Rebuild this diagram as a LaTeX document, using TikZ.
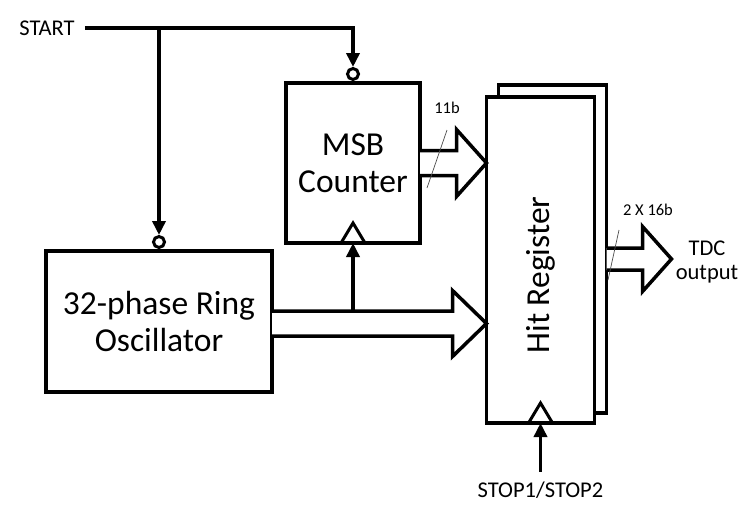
\documentclass[tikz,border=0pt]{standalone}
\usepackage{fontspec}
\setmainfont{Carlito}
\usetikzlibrary{arrows.meta,calc}
\newcommand\busarr[5]{%
  \draw[bus] let \p1=(#1), \p2=(#2) in
    (\x1,\y2+#3pt) -- (\x2-#5pt,\y2+#3pt) -- (\x2-#5pt,\y2+#4pt) -- (\p2)
    -- (\x2-#5pt,\y2-#4pt) -- (\x2-#5pt,\y2-#3pt) -- (\x1,\y2-#3pt);}
\begin{document}
\begin{tikzpicture}[x=1pt,y=-1pt,
  blk/.style={draw, line width=3.5pt, fill=white, rectangle, inner sep=0pt, outer sep=0pt},
  wire/.style={line width=3.5pt},
  arr/.style={wire, -{Triangle[length=14pt,width=13pt]}},
  bus/.style={line width=3.5pt, line join=miter, fill=white},
  slash/.style={line width=0.7pt, draw=black!70},
  bubble/.style={circle, draw, line width=3pt, minimum size=11pt, inner sep=0pt, fill=white},
  clk/.style={line width=3pt, line join=miter},
  big/.style={font=\fontsize{33.5}{37}\selectfont, align=center},
  lbl/.style={font=\fontsize{22.5}{24}\selectfont, align=center, inner sep=0pt},
  tiny/.style={font=\fontsize{16.5}{18}\selectfont, inner sep=0pt}]
\useasboundingbox (0,0) rectangle (747,517);

% blocks
\node[blk, big, minimum width=134pt, minimum height=160pt] (msb) at (353,163) {MSB\\Counter};
\node[blk, big, minimum width=226pt, minimum height=141pt] (oro) at (159,321.5) {32-phase Ring\\Oscillator};
\node[blk, minimum width=108pt, minimum height=328pt] (hitb) at (552.5,249) {};
\node[blk, minimum width=108pt, minimum height=326pt] (hit) at (540.5,260) {};
\node[big, rotate=90] (hitt) at (540.5,275) {Hit Register};

% inversion bubbles
\node[bubble] (msbb) at ($(msb.north)+(0,-9)$) {};
\node[bubble] (orob) at ($(oro.north)+(0,-9)$) {};

% clock triangles
\draw[clk] ($(msb.south)+(-12,0)$) -- ($(msb.south)+(0,-20)$) -- ($(msb.south)+(12,0)$);
\draw[clk] ($(hit.south)+(-12,0)$) -- ($(hit.south)+(0,-20)$) -- ($(hit.south)+(12,0)$);

% START
\node[lbl] (start) at (47,28) {START};
\draw[arr] ($(start.east)+(10,0)$) -| (msbb.north);
\draw[arr] (orob.north |- start.east) -- (orob.north);

% buses
\coordinate (mtip) at (hit.west |- msb.east);
\coordinate (otip) at ($(hit.west)+(0,63.5)$);
\coordinate (ttip) at ($(hitb.east)+(65,10)$);
\busarr{msb.east}{mtip}{12.5}{33.5}{30}
\busarr{oro.east}{otip}{12.5}{33}{34}
\busarr{hitb.east}{ttip}{11}{32.5}{29}

% clock from oscillator bus to MSB counter
\draw[arr] let \p1=(msb.south), \p2=(otip) in (\x1,\y2+12.5pt) -- (msb.south);

% bus width marks
\draw[slash] (447,130) -- (427,188);
\node[tiny] (w11) at (447,108) {11b};
\draw[slash] (619,230) -- (608,280);
\node[tiny] (w32) at (648,210) {2 X 16b};

% output label
\node[lbl] (tdc) at (707,262) {TDC\\output};

% STOP
\node[lbl] (stop) at (540.5,490) {STOP1/STOP2};
\draw[arr] ($(stop.north)+(0,-10)$) -- (hit.south);
\end{tikzpicture}
\end{document}
